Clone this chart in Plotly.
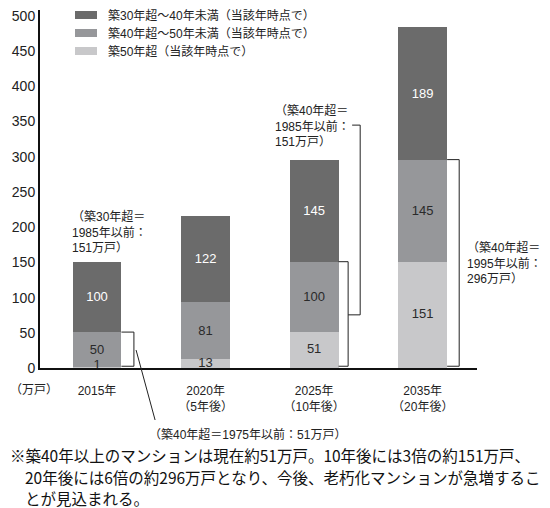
import plotly.graph_objects as go

# ---- data ----
categories = ["2015年", "2020年<br>（5年後）", "2025年<br>（10年後）", "2035年<br>（20年後）"]
age30_40 = [100, 122, 145, 189]
age40_50 = [50, 81, 100, 145]
age50 = [1, 13, 51, 151]
series_names = ["築50年超（当該年時点で）",
                "築40年超～50年未満（当該年時点で）",
                "築30年超～40年未満（当該年時点で）"]
y_ticks = [0, 50, 100, 150, 200, 250, 300, 350, 400, 450, 500]
y_unit = "（万戸）"
note_lines = ["※築40年以上のマンションは現在約51万戸。10年後には3倍の約151万戸、",
              "20年後には6倍の約296万戸となり、今後、老朽化マンションが急増するこ",
              "とが見込まれる。"]

FONT = "Liberation Sans, Noto Sans CJK JP, sans-serif"
C_DARK = "#6b6b6b"
C_MID = "#96979a"
C_LIGHT = "#c8c8ca"
colors = [C_LIGHT, C_MID, C_DARK]

# page body has an 8px margin: figure is drawn 8px right/down of window origin
OFF = 8
W, H = 550 - OFF, 508 - OFF
PL, PR, PT, PB = 40, 477, 10, 368          # plot area in window pixels
YMAX = 508.5


def px(xw):
    return (xw - PL) / (PR - PL)


def py(yw):
    return (PB - yw) / (PB - PT)


x = list(range(len(categories)))
BW = 0.45

fig = go.Figure()
for vals, name, col, tcol, show_text in [(age50, series_names[0], colors[0], "#2a2a2a", False),
                                         (age40_50, series_names[1], colors[1], "#2a2a2a", True),
                                         (age30_40, series_names[2], colors[2], "#ffffff", True)]:
    fig.add_trace(go.Bar(
        x=x, y=vals, name=name, width=BW,
        marker=dict(color=col, line=dict(width=0)),
        text=[str(v) for v in vals] if show_text else None, textposition="inside",
        insidetextanchor="middle", textangle=0, constraintext="none",
        textfont=dict(family=FONT, size=13, color=tcol),
        hoverinfo="skip", showlegend=False,
    ))

# labels of the lowest segment (some are too thin for in-bar text)
fig.add_trace(go.Scatter(
    x=x, y=[max(v / 2, 3.5) for v in age50], mode="text",
    text=[str(v) for v in age50], textposition="middle center",
    textfont=dict(family=FONT, size=13, color="#2a2a2a"),
    cliponaxis=False, showlegend=False, hoverinfo="skip",
))

over40 = [a + b for a, b in zip(age40_50, age50)]
over30 = [a + b + c for a, b, c in zip(age30_40, age40_50, age50)]

line_style = dict(color="#222222", width=1)
shapes = []


def bracket(i, off, top):
    return dict(type="path", xref="x", yref="y",
                path=f"M {i + BW/2},{top} L {i + off},{top} L {i + off},2.5 L {i + BW/2},2.5",
                line=line_style)


shapes.append(bracket(0, 0.34, over40[0]))
shapes.append(bracket(2, 0.313, over40[2]))
shapes.append(bracket(3, 0.336, over40[3]))
# leader line 2015 -> bottom label
shapes.append(dict(type="line", xref="x", yref="paper",
                   x0=0.36, y0=(over40[0] / 2) / YMAX, x1=0.535, y1=py(420), line=line_style))
# connector 2025 -> label above
shapes.append(dict(type="path", xref="x", yref="y",
                   path=f"M 2.313,{over40[2]/2} L 2.424,{over40[2]/2} L 2.424,345 L 2.35,345",
                   line=line_style))

ann_font = dict(family=FONT, size=12, color="#222222")
annotations = [
    dict(x=-0.25, y=193, xref="x", yref="y", xanchor="left", yanchor="middle", align="left",
         text=f"（築30年超＝<br>1985年以前：<br>{over30[0]}万戸）", showarrow=False, font=ann_font),
    dict(x=1.622, y=344, xref="x", yref="y", xanchor="left", yanchor="middle", align="left",
         text=f"（築40年超＝<br>1985年以前：<br>{over40[2]}万戸）", showarrow=False, font=ann_font),
    dict(x=3.392, y=149, xref="x", yref="y", xanchor="left", yanchor="middle", align="left",
         text=f"（築40年超＝<br>1995年以前：<br>{over40[3]}万戸）", showarrow=False, font=ann_font),
    dict(x=1.39, y=py(434), xref="x", yref="paper", xanchor="center", yanchor="middle",
         text=f"（築40年超＝1975年以前：{over40[0]}万戸）", showarrow=False, font=ann_font),
    dict(x=px(OFF), y=py(390), xref="paper", yref="paper", xanchor="left", yanchor="middle",
         text=y_unit, showarrow=False, font=ann_font),
]

# legend (drawn manually to get the wide, flat swatches of the original)
leg_rows = [15, 33, 51]
for row_y, name, col in zip(leg_rows, series_names[::-1], colors[::-1]):
    shapes.append(dict(type="rect", xref="paper", yref="paper",
                       x0=px(75), x1=px(97), y0=py(row_y + 4), y1=py(row_y - 4),
                       fillcolor=col, line=dict(width=0)))
    annotations.append(dict(x=px(106), y=py(row_y), xref="paper", yref="paper",
                            xanchor="left", yanchor="middle", text=name,
                            showarrow=False, font=ann_font))

note_font = dict(family="Noto Sans CJK JP, sans-serif", size=15.5, color="#111111")
for k, (line, yw) in enumerate(zip(note_lines, [455, 477, 498])):
    annotations.append(dict(
        x=px(OFF if k == 0 else OFF + 15), y=py(yw), xref="paper", yref="paper",
        xanchor="left", yanchor="middle", text=line, showarrow=False, font=note_font))

fig.update_layout(
    width=W, height=H,
    margin=dict(l=PL - OFF, r=W - (PR - OFF), t=PT - OFF, b=H - (PB - OFF), autoexpand=False),
    barmode="stack",
    plot_bgcolor="white", paper_bgcolor="white",
    font=dict(family=FONT, color="#222222"),
    showlegend=False,
    xaxis=dict(range=[-0.525, 3.5], tickvals=x, ticktext=categories, automargin=False,
               showline=True, linecolor="#111111", linewidth=2, showgrid=False,
               zeroline=False, ticks="", ticklabelstandoff=11, ticklabeloverflow="allow",
               tickfont=dict(family=FONT, size=12, color="#222222")),
    yaxis=dict(range=[0, YMAX], tickvals=y_ticks, showline=True, linecolor="#111111",
               linewidth=2, showgrid=False, zeroline=False, ticks="", automargin=False,
               ticklabeloverflow="allow",
               tickfont=dict(family=FONT, size=14, color="#222222")),
    shapes=shapes,
    annotations=annotations,
)

fig.write_html("out.html")
